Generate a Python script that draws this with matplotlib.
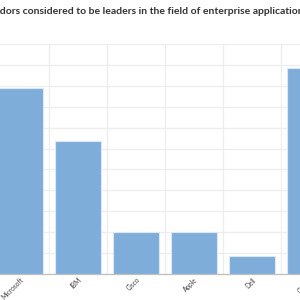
import matplotlib
matplotlib.use('Agg')
import matplotlib.pyplot as plt
import numpy as np

vendors = ['Microsoft', 'IBM', 'Cisco', 'Apple', 'Dell', 'Oracle']
counts = [71, 51, 16, 16, 7, 79]
title = 'Vendors considered to be leaders in the field of enterprise applications'

plt.rcParams['font.family'] = ['Lato', 'DejaVu Sans']

W = H = 300
fig = plt.figure(figsize=(3, 3), dpi=100)

# the reference is a crop of a wider chart, so the axes run off both sides
cat_px = 58
left_px = -9
ax = fig.add_axes([left_px / W, 26 / H, cat_px * len(vendors) / W, 230 / H])

x = np.arange(len(vendors))
ax.bar(x, counts, width=0.79, color='#7EADD9', edgecolor='#DCE9F5', linewidth=0.8, zorder=3)

ax.set_xlim(-0.5, len(vendors) - 0.5)
ax.set_ylim(0, 88)
ax.set_yticks(np.arange(0, 89, 8))
ax.set_yticklabels([])
ax.set_xticks(x)
ax.set_xticklabels(vendors, rotation=45, ha='right', rotation_mode='anchor',
                   fontsize=4.7, color='#404040')
ax.set_xticks(np.arange(-0.5, len(vendors), 1), minor=True)
ax.tick_params(axis='both', which='both', length=0, pad=1.5)
ax.grid(axis='y', which='major', color='#EDEDED', linewidth=0.9, zorder=0)
ax.grid(axis='x', which='minor', color='#EDEDED', linewidth=0.9, zorder=0)
for s in ['top', 'right', 'left']:
    ax.spines[s].set_visible(False)
ax.spines['bottom'].set_color('#BFBFBF')
ax.spines['bottom'].set_linewidth(0.9)

# title starts just left of the picture so only "dors ..." shows
fs = 7.45
probe = fig.text(0, 0, 'Ven', fontsize=fs, fontweight='bold')
fig.canvas.draw()
w = probe.get_window_extent().width
probe.remove()
fig.text(-w / W, 1 - 11 / H, title, fontsize=fs, fontweight='bold',
         color='#333333', ha='left', va='center')

fig.savefig('out.png', dpi=100)
